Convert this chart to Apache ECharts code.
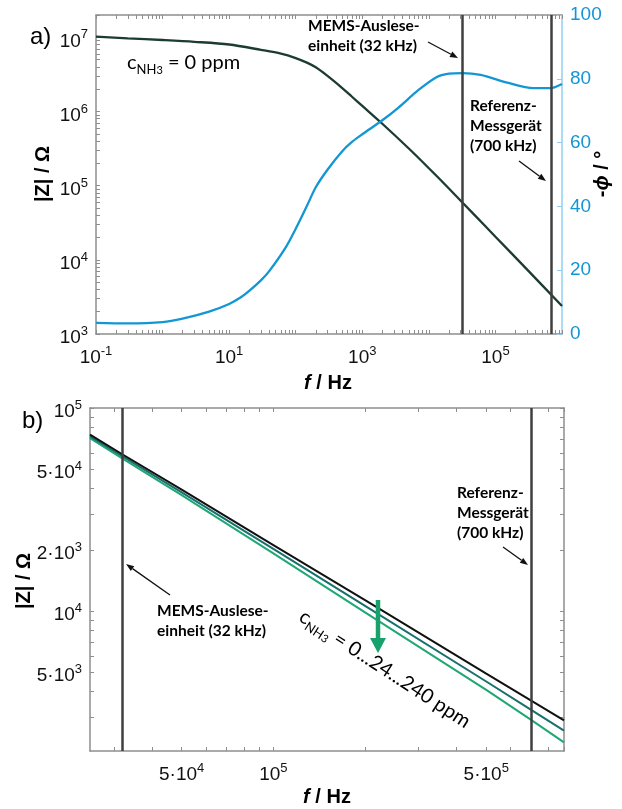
<!DOCTYPE html>
<html>
<head>
<meta charset="utf-8">
<title>Impedanzspektrum NH3</title>
<script src="https://cdn.jsdelivr.net/npm/echarts@6/dist/echarts.min.js"></script>
<style>
  html, body { margin: 0; padding: 0; background: #fff; }
  #chart { width: 622px; height: 809px; }
</style>
</head>
<body>
<div id="chart"></div>
<script>
// a) Betrag und Phase, c(NH3) = 0 ppm
const freqA = [0.1, 0.3, 1, 3, 10, 30, 60, 100, 150, 200, 300, 500, 700, 1000, 2000, 5000, 1e4, 2e4, 5e4, 1e5, 3e5, 1e6];
const impedanceA = [1.02e7, 9.7e6, 9.2e6, 8.7e6, 8.0e6, 6.78e6, 6.03e6, 5.25e6, 4.52e6, 3.94e6, 3.02e6, 2.07e6, 1.58e6, 1.19e6, 6.84e5, 3.17e5, 1.72e5, 9.16e4, 3.91e4, 2.05e4, 7.38e3, 2.38e3];
const freqPhase = [0.1, 0.3, 1, 2, 5, 10, 15, 20, 30, 40, 70, 100, 150, 200, 300, 500, 700, 1000, 2000, 3500, 7000, 1.3e4, 2e4, 3.2e4, 6e4, 1.5e5, 3.7e5, 6.7e5, 1e6];
const phaseA = [3.5, 3.3, 3.7, 4.8, 7.0, 9.4, 11.5, 13.5, 16.8, 19.7, 27, 33, 40.5, 46, 51.5, 57.3, 60.2, 62.6, 67, 71, 76.5, 80.5, 81.6, 81.8, 81.2, 78.8, 77.1, 77.1, 78.4];

// b) Ausschnitt 25 kHz ... 900 kHz, drei Konzentrationen
const freqB = [2.5e4, 3.2e4, 5e4, 1e5, 2e5, 5e5, 7e5, 9e5];
const impedance0 = [7.4e4, 5.9e4, 3.96e4, 2.11e4, 1.13e4, 4.91e3, 3.62e3, 2.89e3];
const impedance24 = [7.25e4, 5.78e4, 3.84e4, 2.02e4, 1.06e4, 4.49e3, 3.26e3, 2.57e3];
const impedance240 = [7.1e4, 5.63e4, 3.72e4, 1.92e4, 9.83e3, 4.08e3, 2.91e3, 2.25e3];

// Messfrequenzen (senkrechte Linien)
const markFreqs = [32000, 700000];

// Achsenbeschriftungen
const xLabelsA = [0.1, 10, 1000, 1e5];
const yLabelsA = [1e3, 1e4, 1e5, 1e6, 1e7];
const xLabelsB = [5e4, 1e5, 5e5];
const yLabelsB = [5e3, 1e4, 2e4, 5e4, 1e5];
const yLabelTextB = [['5·10', '3'], ['10', '4'], ['2·10', '3'], ['5·10', '4'], ['10', '5']];

const FONT = 'Liberation Sans, Arial, sans-serif';
const NOTE_FONT = 'Lato, Noto Sans, sans-serif';
const GRAY = '#8e8e8e';
const BLUE = '#1296d4';

function logTicks(min, max) {
  const out = [];
  for (let e = -2; e <= 8; e++) {
    for (let m = 1; m <= 9; m++) {
      const v = Number((m * Math.pow(10, e)).toPrecision(6));
      if (v >= min * 0.9999 && v <= max * 1.0001) out.push(v);
    }
  }
  return out;
}

function supLabel(v) {
  const e = Math.floor(Math.log10(v) + 1e-6);
  const m = Math.round(v / Math.pow(10, e));
  return '{b|' + (m === 1 ? '10' : m + '·10') + '}{s|' + (e < 0 ? '-' + (-e) : e) + '}';
}

const labelRich = {
  b: { fontSize: 19, lineHeight: 26, fontFamily: FONT, color: '#111' },
  s: { fontSize: 13, lineHeight: 12, verticalAlign: 'top', fontFamily: FONT, color: '#111' }
};

function logAxis(gridIndex, pos, min, max, labels, formatter) {
  const vertical = pos === 'left' || pos === 'right';
  return {
    type: 'log', gridIndex, position: pos, min, max,
    axisLine: { show: true, lineStyle: { color: GRAY, width: 1.5 } },
    axisTick: { show: true, inside: true, length: 4, customValues: logTicks(min, max), lineStyle: { color: GRAY } },
    axisLabel: labels
      ? {
          show: true, customValues: labels, formatter: formatter || supLabel, rich: labelRich,
          margin: vertical ? 8 : 11, padding: vertical ? [8, 0, 0, 0] : 0
        }
      : { show: false },
    splitLine: { show: false },
    minorTick: { show: false }
  };
}

function pairs(xs, ys) {
  return xs.map((x, i) => [x, ys[i]]);
}

function arrow(x1, y1, x2, y2, color, w, hl, hw) {
  const a = Math.atan2(y2 - y1, x2 - x1);
  const bx = x2 - hl * Math.cos(a), by = y2 - hl * Math.sin(a);
  const px = -Math.sin(a) * hw / 2, py = Math.cos(a) * hw / 2;
  return [
    { type: 'line', silent: true, z: 100, shape: { x1, y1, x2: bx, y2: by }, style: { stroke: color, lineWidth: w } },
    { type: 'polygon', silent: true, z: 100, shape: { points: [[x2, y2], [bx + px, by + py], [bx - px, by - py]] }, style: { fill: color } }
  ];
}

function text(x, y, str, rich, align, rotation) {
  return {
    type: 'text', silent: true, z: 100, x, y, rotation: rotation || 0,
    style: { text: str, rich, align: align || 'left', verticalAlign: 'middle' }
  };
}

const noteRich = {
  n: { fontFamily: NOTE_FONT, fontWeight: 'bold', fontSize: 15.5, lineHeight: 20, color: '#555' }
};
function note(x, y, lines) {
  return text(x, y, lines.map(l => '{n|' + l + '}').join('\n'), noteRich);
}

const concRich = {
  c: { fontFamily: NOTE_FONT, fontSize: 20, lineHeight: 26, color: '#1e1e1e' },
  sub: { fontFamily: NOTE_FONT, fontSize: 13, lineHeight: 14, verticalAlign: 'bottom', color: '#1e1e1e' },
  sub3: { fontFamily: NOTE_FONT, fontSize: 11, lineHeight: 9, verticalAlign: 'bottom', color: '#1e1e1e' },
  teal: { fontFamily: NOTE_FONT, fontSize: 20, lineHeight: 26, color: '#17706e' },
  green: { fontFamily: NOTE_FONT, fontSize: 20, lineHeight: 26, color: '#1fa774' }
};

const titleRich = {
  b: { fontFamily: FONT, fontSize: 20, fontWeight: 'bold', color: '#111' },
  i: { fontFamily: FONT, fontSize: 20, fontWeight: 'bold', fontStyle: 'italic', color: '#111' },
  n: { fontFamily: FONT, fontSize: 20, fontWeight: 'bold', color: '#111' },
  pi: { fontFamily: FONT, fontSize: 20, fontWeight: 'bold', fontStyle: 'italic', color: BLUE },
  pn: { fontFamily: FONT, fontSize: 20, fontWeight: 'bold', color: BLUE }
};
const plainRich = { t: { fontFamily: FONT, fontSize: 24, color: '#111' } };

const markLineOpt = {
  silent: true,
  symbol: 'none',
  label: { show: false },
  lineStyle: { color: '#3f3f3f', width: 2.5, type: 'solid' },
  data: markFreqs.map(f => ({ xAxis: f }))
};

const UPRIGHT = Math.PI / 2;
const graphics = [].concat(
  text(30, 37, '{t|a)}', plainRich),
  text(22, 421, '{t|b)}', plainRich),
  text(127, 63, '{c|c}{sub|NH}{sub3|3}{c| = 0 ppm}', concRich),
  note(308, 36, ['MEMS-Auslese-', 'einheit (32 kHz)']),
  note(470, 126, ['Referenz-', 'Messgerät', '(700 kHz)']),
  arrow(428, 42, 458, 58, '#111', 1.3, 8, 6),
  arrow(519, 161, 546, 181, '#111', 1.3, 8, 6),
  note(457, 513, ['Referenz-', 'Messgerät', '(700 kHz)']),
  note(157, 621, ['MEMS-Auslese-', 'einheit (32 kHz)']),
  arrow(503, 547, 528, 565, '#111', 1.3, 8, 6),
  arrow(170, 595, 126, 564, '#111', 1.3, 8, 6),
  arrow(378, 600, 378, 653, '#18a06d', 4.5, 15, 16),
  text(385, 669, '{c|c}{sub|NH}{sub3|3}{c| = 0...}{teal|24...}{green|240}{c| ppm}', concRich, 'center', -33 * Math.PI / 180),
  text(43, 174, '{b||Z|}{n| / Ω}', titleRich, 'center', UPRIGHT),
  text(24, 581, '{b||Z|}{n| / Ω}', titleRich, 'center', UPRIGHT),
  text(602, 174, '{pn|-}{pi|ϕ}{pn| / °}', titleRich, 'center', UPRIGHT),
  text(328, 383, '{i|f}{n| / Hz}', titleRich, 'center'),
  text(327, 797, '{i|f}{n| / Hz}', titleRich, 'center')
);

const option = {
  animation: false,
  backgroundColor: '#fff',
  grid: [
    { left: 96, top: 15, width: 466, height: 319 },
    { left: 90, top: 408, width: 474, height: 343 }
  ],
  xAxis: [
    logAxis(0, 'bottom', 0.1, 1e6, xLabelsA),
    logAxis(0, 'top', 0.1, 1e6, null),
    logAxis(1, 'bottom', 2.5e4, 9e5, xLabelsB),
    logAxis(1, 'top', 2.5e4, 9e5, null)
  ],
  yAxis: [
    logAxis(0, 'left', 1e3, 2e7, yLabelsA),
    {
      type: 'value', gridIndex: 0, position: 'right', min: 0, max: 100, interval: 20,
      axisLine: { show: true, lineStyle: { color: '#8fd0f0', width: 1.5 } },
      axisTick: { show: true, inside: true, length: 5, lineStyle: { color: '#8fd0f0' } },
      axisLabel: { color: BLUE, fontSize: 19, fontFamily: FONT, margin: 8 },
      splitLine: { show: false }
    },
    logAxis(1, 'left', 2.04e3, 1e5, yLabelsB, function (v) {
      const i = yLabelsB.findIndex(t => Math.abs(Math.log10(v) - Math.log10(t)) < 1e-3);
      if (i < 0) return '';
      return '{b|' + yLabelTextB[i][0] + '}{s|' + yLabelTextB[i][1] + '}';
    }),
    logAxis(1, 'right', 2.04e3, 1e5, null)
  ],
  series: [
    {
      name: '|Z| 0 ppm', type: 'line', xAxisIndex: 0, yAxisIndex: 0,
      data: pairs(freqA, impedanceA), smooth: 0.3, showSymbol: false,
      lineStyle: { color: '#1c3b33', width: 2.3 },
      markLine: markLineOpt
    },
    {
      name: '-phi', type: 'line', xAxisIndex: 0, yAxisIndex: 1,
      data: pairs(freqPhase, phaseA), smooth: 0.3, showSymbol: false,
      lineStyle: { color: BLUE, width: 2.3 }
    },
    {
      name: '240 ppm', type: 'line', xAxisIndex: 2, yAxisIndex: 2,
      data: pairs(freqB, impedance240), smooth: false, showSymbol: false,
      lineStyle: { color: '#1fa774', width: 2 }
    },
    {
      name: '24 ppm', type: 'line', xAxisIndex: 2, yAxisIndex: 2,
      data: pairs(freqB, impedance24), smooth: false, showSymbol: false,
      lineStyle: { color: '#17706e', width: 2 }
    },
    {
      name: '0 ppm', type: 'line', xAxisIndex: 2, yAxisIndex: 2,
      data: pairs(freqB, impedance0), smooth: false, showSymbol: false,
      lineStyle: { color: '#111', width: 2 },
      markLine: markLineOpt
    }
  ],
  graphic: graphics
};

const chart = echarts.init(document.getElementById('chart'), null, { renderer: 'canvas' });
chart.setOption(option);
</script>
</body>
</html>
